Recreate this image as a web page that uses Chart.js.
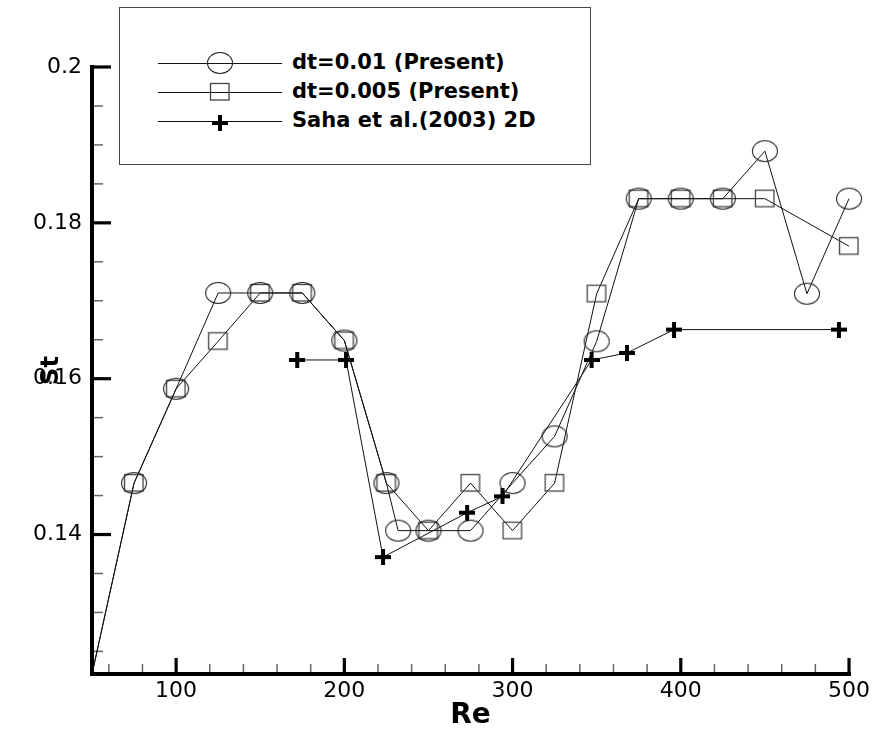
<!DOCTYPE html>
<html>
<head>
<meta charset="utf-8">
<script src="https://cdn.jsdelivr.net/npm/chart.js@4.4.0/dist/chart.umd.min.js"></script>
<style>
  body { margin: 0; background: #fff; }
  #wrap { position: relative; width: 874px; height: 733px; }
  #legend {
    position: absolute; left: 119px; top: 7px; width: 472px; height: 158px;
    border: 1px solid #444; box-sizing: border-box; background: #fff;
  }
  .row { position: absolute; left: 38px; height: 26px; }
  .row canvas { position: absolute; left: 0; top: 0; }
  .row span {
    position: absolute; left: 134px; top: 0; line-height: 26px; white-space: nowrap;
    font: bold 21px "DejaVu Sans", sans-serif; color: #000;
  }
</style>
</head>
<body>
<div id="wrap">
  <canvas id="stChart" width="874" height="733"></canvas>
  <div id="legend"></div>
</div>
<script>
// Strouhal number vs Reynolds number
const reCircle = [50, 75, 100, 125, 150, 175, 200, 225, 232, 250, 275, 300, 325, 350, 375, 400, 425, 450, 475, 500];
const stCircle = [0.1221, 0.1466, 0.1587, 0.171, 0.171, 0.171, 0.1649, 0.1466, 0.1405, 0.1405, 0.1405, 0.1466, 0.1526, 0.1648, 0.1831, 0.1831, 0.1831, 0.1892, 0.1709, 0.1831];

const reSquare = [50, 75, 100, 125, 150, 175, 200, 225, 250, 275, 300, 325, 350, 375, 400, 425, 450, 500];
const stSquare = [0.1221, 0.1466, 0.1587, 0.1648, 0.171, 0.171, 0.1649, 0.1466, 0.1405, 0.1466, 0.1405, 0.1466, 0.1709, 0.1831, 0.1831, 0.1831, 0.1831, 0.177];

const reSaha = [172, 201, 223, 273, 294, 347, 368, 396, 494];
const stSaha = [0.1624, 0.1624, 0.1371, 0.1428, 0.1449, 0.1624, 0.1633, 0.1663, 0.1663];

const seriesNames = ['dt=0.01 (Present)', 'dt=0.005 (Present)', 'Saha et al.(2003) 2D'];

const xTicks = [100, 200, 300, 400, 500];
const yTicks = [0.14, 0.16, 0.18, 0.2];
const xMinor = [60, 80, 120, 140, 160, 180, 220, 240, 260, 280, 320, 340, 360, 380, 420, 440, 460, 480];
const yMinor = [0.125, 0.13, 0.135, 0.145, 0.15, 0.155, 0.165, 0.17, 0.175, 0.185, 0.19, 0.195];

// marker glyphs (the figure is a bit stretched sideways, so circles are ellipses)
function makeMarker(kind) {
    const c = document.createElement('canvas');
    const g = c.getContext('2d');
    if (kind === 'ellipse') {
        c.width = 28; c.height = 24;
        g.strokeStyle = '#222'; g.lineWidth = 1.1;
        g.beginPath();
        g.ellipse(14, 12, 12.5, 10.5, 0, 0, Math.PI * 2);
        g.stroke();
    } else if (kind === 'square') {
        c.width = 22; c.height = 20;
        g.strokeStyle = '#444'; g.lineWidth = 1.3;
        g.strokeRect(1.5, 1.5, 18.5, 16.5);
    } else {
        c.width = 16; c.height = 16;
        g.fillStyle = '#000';
        g.fillRect(0, 6, 16, 4);
        g.fillRect(6, 0, 4, 16);
    }
    return c;
}
const markers = [makeMarker('ellipse'), makeMarker('square'), makeMarker('plus')];

function toPoints(xs, ys) {
    return xs.map((x, i) => ({ x: x, y: ys[i] }));
}

// Tecplot-like axes: thick lines with ticks pointing inward
const axesPlugin = {
    id: 'tecAxes',
    beforeDatasetsDraw(chart) {
        const { ctx, chartArea: a, scales: { x, y } } = chart;
        const seg = (x1, y1, x2, y2) => { ctx.beginPath(); ctx.moveTo(x1, y1); ctx.lineTo(x2, y2); ctx.stroke(); };
        ctx.save();
        ctx.strokeStyle = '#666';
        ctx.lineWidth = 1.5;
        xMinor.forEach(v => { const px = x.getPixelForValue(v); seg(px, a.bottom, px, a.bottom - 10); });
        yMinor.forEach(v => { const py = y.getPixelForValue(v); seg(a.left, py, a.left + 11, py); });
        ctx.strokeStyle = '#000';
        ctx.lineWidth = 3.2;
        xTicks.forEach(v => { const px = x.getPixelForValue(v); seg(px, a.bottom, px, a.bottom - 16); });
        yTicks.forEach(v => { const py = y.getPixelForValue(v); seg(a.left, py, a.left + 19, py); });
        ctx.lineWidth = 4;
        seg(a.left, y.getPixelForValue(0.2) - 2, a.left, a.bottom + 2);
        seg(a.left - 2, a.bottom, x.getPixelForValue(500) + 2, a.bottom);
        ctx.restore();
    }
};

const ctx = document.getElementById('stChart').getContext('2d');
const stChart = new Chart(ctx, {
    type: 'scatter',
    data: {
        datasets: [
            { label: seriesNames[0], data: toPoints(reCircle, stCircle), pointStyle: markers[0] },
            { label: seriesNames[1], data: toPoints(reSquare, stSquare), pointStyle: markers[1] },
            { label: seriesNames[2], data: toPoints(reSaha, stSaha), pointStyle: markers[2] }
        ].map(d => Object.assign(d, {
            showLine: true,
            borderColor: '#111',
            borderWidth: 1,
            backgroundColor: 'transparent',
            pointRadius: c => (c.dataIndex === 0 && c.datasetIndex < 2) ? 0 : 10,
            clip: false
        }))
    },
    plugins: [axesPlugin],
    options: {
        responsive: false,
        animation: false,
        events: [],
        layout: { padding: { top: 67, right: 24, left: 0, bottom: 0 } },
        plugins: { legend: { display: false }, tooltip: { enabled: false } },
        scales: {
            x: {
                type: 'linear', min: 50, max: 500,
                grid: { display: false, drawTicks: false },
                border: { display: false },
                afterBuildTicks: s => { s.ticks = xTicks.map(v => ({ value: v })); },
                afterFit: s => { s.height = 59; },
                ticks: { color: '#000', padding: 4, font: { family: 'DejaVu Sans', size: 22 }, callback: v => String(v) },
                title: { display: true, text: 'Re', color: '#000', padding: { top: 0, bottom: 3 },
                         font: { family: 'DejaVu Sans', size: 28, weight: 'bold', lineHeight: 1 } }
            },
            y: {
                type: 'linear', min: 0.1221, max: 0.2,
                grid: { display: false, drawTicks: false },
                border: { display: false },
                afterBuildTicks: s => { s.ticks = yTicks.map(v => ({ value: v })); },
                afterFit: s => { s.width = 92; },
                ticks: { color: '#000', padding: 10, font: { family: 'DejaVu Sans', size: 22 }, callback: v => String(v) },
                title: { display: true, text: 'St', color: '#000', padding: { top: 40, bottom: 0 },
                         font: { family: 'DejaVu Sans', size: 24, weight: 'bold', lineHeight: 1 } }
            }
        }
    }
});

// legend box, as in the original figure
const legend = document.getElementById('legend');
const rowTops = [42, 71, 100];
seriesNames.forEach((name, i) => {
    const row = document.createElement('div');
    row.className = 'row';
    row.style.top = rowTops[i] + 'px';
    const c = document.createElement('canvas');
    c.width = 124; c.height = 26;
    const g = c.getContext('2d');
    g.strokeStyle = '#111'; g.lineWidth = 1;
    g.beginPath(); g.moveTo(0, 13.5); g.lineTo(124, 13.5); g.stroke();
    const m = markers[i];
    g.drawImage(m, 62 - m.width / 2, 13 - m.height / 2 + (i === 2 ? 2 : 0));
    const span = document.createElement('span');
    span.textContent = name;
    row.appendChild(c);
    row.appendChild(span);
    legend.appendChild(row);
});
</script>
</body>
</html>
